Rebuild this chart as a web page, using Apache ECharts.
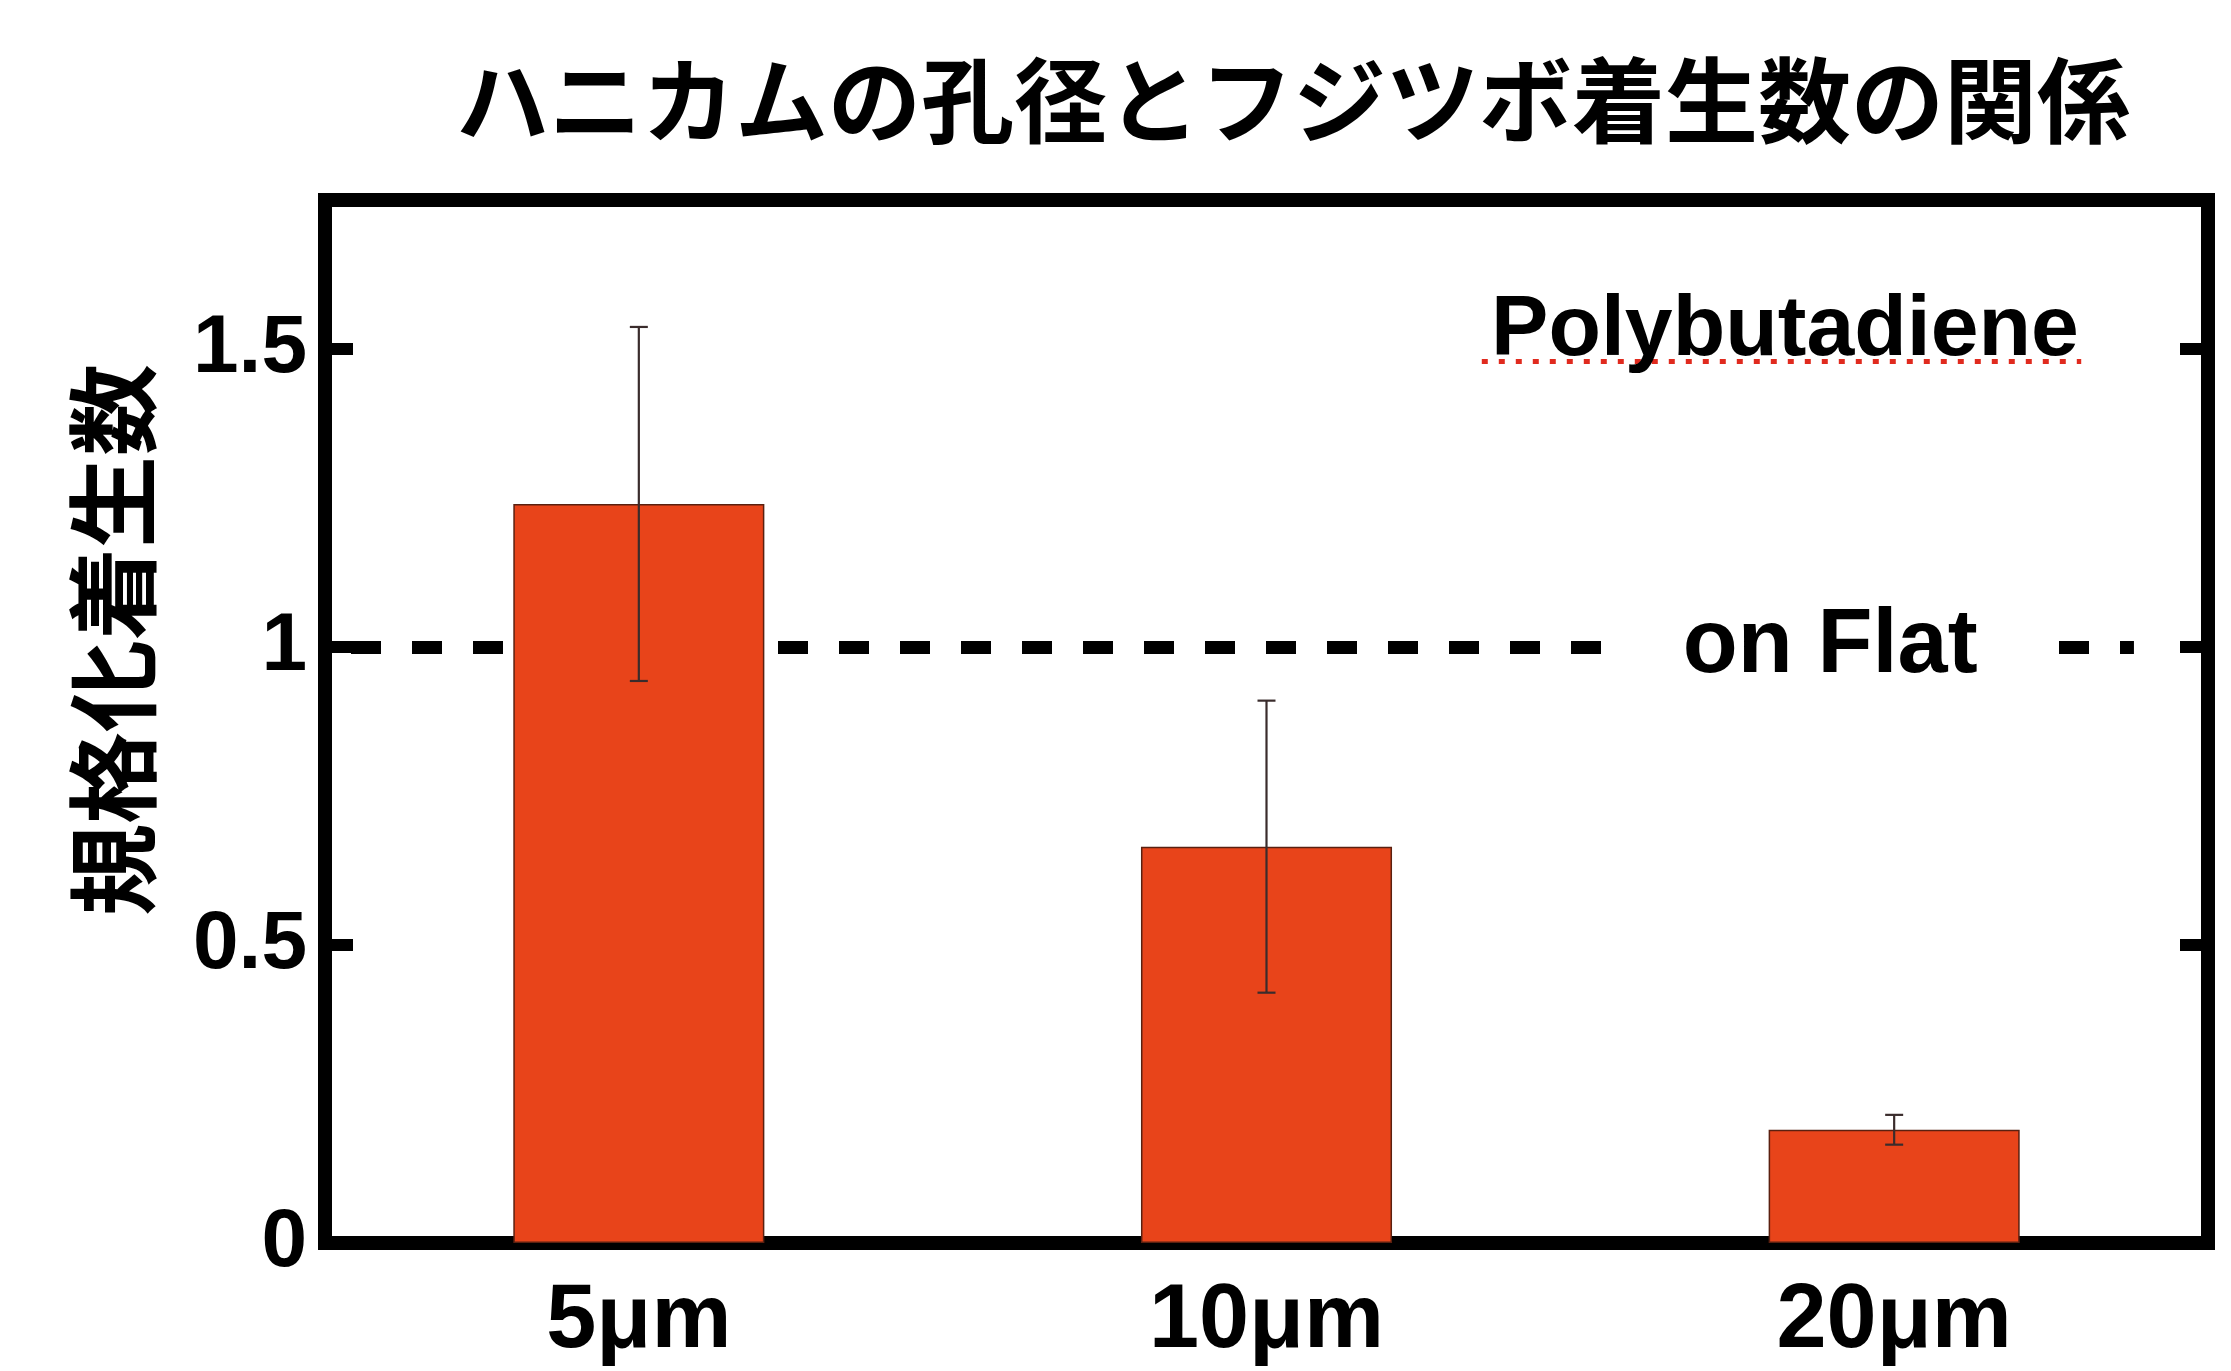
<!DOCTYPE html>
<html>
<head>
<meta charset="utf-8">
<script src="https://cdn.jsdelivr.net/npm/echarts@6/dist/echarts.min.js"></script>
<style>
html,body{margin:0;padding:0;background:#fff;}
#c{width:2231px;height:1371px;}
</style>
</head>
<body>
<div id="c"></div>
<script>
const categories = ['5μm', '10μm', '20μm'];
const means = [1.24, 0.665, 0.19];
const errors = [0.297, 0.245, 0.025];
const flatLevel = 1;
const yMin = 0, yMax = 1.75, yInterval = 0.5;
const titleText = 'ハニカムの孔径とフジツボ着生数の関係';
const yName = '規格化着生数';
const materialText = 'Polybutadiene';
const flatText = 'on Flat';

const latin = '"Liberation Sans", Arial, sans-serif';
const cjk = '"Noto Sans CJK JP", sans-serif';

const chart = echarts.init(document.getElementById('c'), null, {renderer: 'canvas'});

const option = {
  animation: false,
  backgroundColor: '#fff',
  grid: {
    left: 325, right: 23, top: 200, bottom: 128,
    show: true, borderColor: '#000', borderWidth: 14, backgroundColor: 'transparent'
  },
  graphic: [
    {type: 'text', x: 1293, y: 101, z: 10,
     style: {text: titleText, font: 'bold 93px ' + cjk, fill: '#000', align: 'center', verticalAlign: 'middle'}},
    {type: 'text', x: 113, y: 640, rotation: Math.PI / 2, z: 10,
     style: {text: yName, font: 'bold 92px ' + cjk, fill: '#000', align: 'center', verticalAlign: 'middle'}}
  ],
  xAxis: [
    {
      type: 'category', data: categories, boundaryGap: true,
      axisLine: {show: false}, axisTick: {show: false}, splitLine: {show: false},
      axisLabel: {color: '#000', fontSize: 90, fontWeight: 'bold', fontFamily: latin, margin: 34}
    },
    {
      type: 'value', min: 0, max: 3, show: false
    }
  ],
  yAxis: [
    {
      type: 'value', min: yMin, max: yMax, interval: yInterval, position: 'left',
      axisLine: {show: false}, splitLine: {show: false},
      axisTick: {show: true, inside: true, length: 28, lineStyle: {color: '#000', width: 12}},
      axisLabel: {color: '#000', fontSize: 82, fontWeight: 'bold', fontFamily: latin, margin: 18, showMaxLabel: false}
    },
    {
      type: 'value', min: yMin, max: yMax, interval: yInterval, position: 'right',
      axisLine: {show: false}, splitLine: {show: false},
      axisTick: {show: true, inside: true, length: 28, lineStyle: {color: '#000', width: 12}},
      axisLabel: {show: false}
    }
  ],
  series: [
    {
      type: 'bar', xAxisIndex: 0, yAxisIndex: 0, z: 2,
      data: means, barWidth: '40%',
      itemStyle: {color: '#E8441A', borderColor: '#5a2010', borderWidth: 1.5}
    },
    {
      type: 'custom', xAxisIndex: 0, yAxisIndex: 0, z: 3,
      data: categories.map((c, i) => [i, means[i], errors[i]]),
      encode: {x: 0, y: 1},
      renderItem: function (params, api) {
        const x = api.value(0), m = api.value(1), e = api.value(2);
        const top = api.coord([x, m + e]);
        const bot = api.coord([x, m - e]);
        const half = 9;
        const st = {stroke: '#3a2c2c', lineWidth: 2.2};
        return {
          type: 'group',
          children: [
            {type: 'line', shape: {x1: top[0], y1: top[1], x2: bot[0], y2: bot[1]}, style: st},
            {type: 'line', shape: {x1: top[0] - half, y1: top[1], x2: top[0] + half, y2: top[1]}, style: st},
            {type: 'line', shape: {x1: bot[0] - half, y1: bot[1], x2: bot[0] + half, y2: bot[1]}, style: st}
          ]
        };
      }
    },
    {
      type: 'scatter', xAxisIndex: 1, yAxisIndex: 0, z: 4,
      symbolSize: 1, itemStyle: {color: 'rgba(255,255,255,0)', opacity: 1}, silent: true,
      emphasis: {disabled: true},
      data: [
        {value: [2.326, 1.53], label: {show: true, position: 'inside', formatter: materialText,
          color: '#000', fontSize: 86, fontWeight: 'bold', fontFamily: latin, opacity: 1}},
        {value: [2.398, flatLevel], label: {show: true, position: 'inside', formatter: flatText,
          color: '#000', fontSize: 90, fontWeight: 'bold', fontFamily: latin, opacity: 1,
          backgroundColor: '#fff', padding: [0, 62]}}
      ],
      markLine: {
        silent: true, z: 1, symbol: ['none', 'none'], label: {show: false},
        data: [
          [
            {coord: [0, flatLevel], lineStyle: {color: '#000', width: 13, type: [30, 31], dashOffset: 35, cap: 'butt', opacity: 1}},
            {coord: [2.882, flatLevel]}
          ],
          [
            {coord: [1.843, 1.48], lineStyle: {color: '#E02A1E', width: 5, type: [6, 11], cap: 'butt', opacity: 1}},
            {coord: [2.798, 1.48]}
          ]
        ]
      }
    }
  ]
};
chart.setOption(option);
</script>
</body>
</html>
